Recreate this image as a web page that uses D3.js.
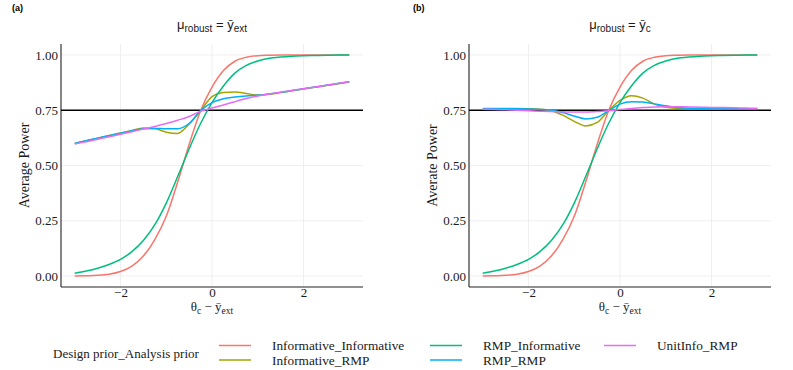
<!DOCTYPE html>
<html>
<head>
<meta charset="utf-8">
<script src="https://cdn.jsdelivr.net/npm/d3@7"></script>
<style>
body { margin: 0; background: #ffffff; }
</style>
</head>
<body>
<script>
// Data
var thetaGrid = [-3, -2.75, -2.5, -2.25, -2, -1.75, -1.5, -1.25, -1, -0.75, -0.5, -0.25,
  0, 0.25, 0.5, 0.75, 1, 1.25, 1.5, 1.75, 2, 2.25, 2.5, 2.75, 3];

var seriesNames = ["Informative_Informative", "Informative_RMP", "RMP_Informative", "RMP_RMP", "UnitInfo_RMP"];
var seriesColors = ["#F8766D", "#A3A500", "#00BF7D", "#00B0F6", "#E76BF3"];

// shared by both panels
var infoInfo = [0.000, 0.001, 0.003, 0.008, 0.020, 0.045, 0.090, 0.165, 0.270, 0.425, 0.595, 0.748,
  0.855, 0.930, 0.972, 0.990, 0.997, 0.999, 1.0, 1.0, 1.0, 1.0, 1.0, 1.0, 1.0];
var rmpInfo = [0.012, 0.022, 0.035, 0.052, 0.075, 0.110, 0.160, 0.232, 0.330, 0.450, 0.575, 0.690,
  0.785, 0.860, 0.918, 0.953, 0.973, 0.985, 0.991, 0.995, 0.997, 0.998, 0.999, 1.0, 1.0];

// panel (a): mu_robust = ybar_ext
var infoRmpA = [0.600, 0.612, 0.624, 0.636, 0.647, 0.659, 0.670, 0.667, 0.651, 0.645, 0.688, 0.748,
  0.812, 0.831, 0.833, 0.826, 0.819, 0.822, 0.830, 0.838, 0.846, 0.854, 0.862, 0.870, 0.879];
var rmpRmpA = [0.600, 0.612, 0.624, 0.635, 0.646, 0.657, 0.666, 0.668, 0.666, 0.666, 0.690, 0.748,
  0.785, 0.802, 0.810, 0.815, 0.818, 0.824, 0.831, 0.839, 0.847, 0.855, 0.863, 0.871, 0.879];
var unitRmpA = [0.597, 0.608, 0.619, 0.630, 0.641, 0.653, 0.665, 0.677, 0.690, 0.705, 0.722, 0.745,
  0.760, 0.774, 0.789, 0.803, 0.815, 0.824, 0.832, 0.840, 0.847, 0.855, 0.863, 0.871, 0.879];

// panel (b): mu_robust = ybar_c
var infoRmpB = [0.758, 0.758, 0.758, 0.758, 0.757, 0.755, 0.748, 0.728, 0.700, 0.679, 0.695, 0.748,
  0.795, 0.816, 0.805, 0.778, 0.764, 0.759, 0.757, 0.757, 0.757, 0.757, 0.757, 0.757, 0.757];
var rmpRmpB = [0.757, 0.757, 0.757, 0.757, 0.756, 0.754, 0.750, 0.740, 0.724, 0.711, 0.718, 0.748,
  0.778, 0.789, 0.787, 0.779, 0.770, 0.763, 0.759, 0.758, 0.757, 0.757, 0.757, 0.757, 0.757];
var unitRmpB = [0.755, 0.754, 0.752, 0.750, 0.748, 0.746, 0.744, 0.743, 0.742, 0.742, 0.744, 0.748,
  0.753, 0.758, 0.762, 0.765, 0.766, 0.766, 0.765, 0.764, 0.763, 0.762, 0.761, 0.760, 0.759];

var yTicks = [0, 0.25, 0.5, 0.75, 1];
var xTicks = [-2, 0, 2];
var refLine = 0.75;

var width = 793, height = 370;
var serif = "'Liberation Serif', 'Times New Roman', serif";
var sans = "'Liberation Sans', Arial, sans-serif";

var svg = d3.select("body").append("svg")
  .attr("width", width)
  .attr("height", height);

function drawPanel(left, right, tag, tagX, titleSub, yLabel, series) {
  var top = 44, bottom = 287;
  var x = d3.scaleLinear().domain([-3.3, 3.3]).range([left, right]);
  var y = d3.scaleLinear().domain([-0.05, 1.05]).range([bottom, top]);
  var g = svg.append("g");

  // grid
  g.selectAll(".gy").data(yTicks).enter().append("line")
    .attr("x1", left).attr("x2", right)
    .attr("y1", function(d) { return y(d); }).attr("y2", function(d) { return y(d); })
    .attr("stroke", "#ebebeb").attr("stroke-width", 0.8);
  g.selectAll(".gx").data(xTicks).enter().append("line")
    .attr("y1", top).attr("y2", bottom)
    .attr("x1", function(d) { return x(d); }).attr("x2", function(d) { return x(d); })
    .attr("stroke", "#ebebeb").attr("stroke-width", 0.8);

  // axes (no tick marks, like the reference)
  var yAxis = g.append("g").attr("transform", "translate(" + left + ",0)")
    .call(d3.axisLeft(y).tickValues(yTicks).tickFormat(d3.format(".2f")).tickSize(0).tickPadding(3));
  var xAxis = g.append("g").attr("transform", "translate(0," + bottom + ")")
    .call(d3.axisBottom(x).tickValues(xTicks).tickFormat(d3.format("d")).tickSize(0).tickPadding(1));
  [xAxis, yAxis].forEach(function(a) {
    a.select(".domain").remove();
    a.selectAll("text").attr("font-family", serif).attr("font-size", 13).attr("fill", "#1a1a1a");
  });
  g.append("line").attr("x1", left).attr("x2", left).attr("y1", top).attr("y2", bottom)
    .attr("stroke", "#222").attr("stroke-width", 1.1);
  g.append("line").attr("x1", left).attr("x2", right).attr("y1", bottom).attr("y2", bottom)
    .attr("stroke", "#222").attr("stroke-width", 1.1);

  // reference line
  g.append("line").attr("x1", left).attr("x2", right)
    .attr("y1", y(refLine)).attr("y2", y(refLine))
    .attr("stroke", "#000").attr("stroke-width", 1.5);

  var line = d3.line()
    .x(function(d, i) { return x(thetaGrid[i]); })
    .y(function(d) { return y(d); })
    .curve(d3.curveMonotoneX);

  g.selectAll(".series").data(series).enter().append("path")
    .attr("fill", "none")
    .attr("stroke", function(d, i) { return seriesColors[i]; })
    .attr("stroke-width", 1.5)
    .attr("d", function(d) { return line(d); });

  var cx = (left + right) / 2;

  // panel tag
  svg.append("text").attr("x", tagX).attr("y", 11)
    .attr("font-family", sans).attr("font-size", 9).attr("font-weight", "bold")
    .text(tag);

  // title: mu_robust = ybar_sub
  var t = svg.append("text").attr("x", cx).attr("y", 29).attr("text-anchor", "middle")
    .attr("font-family", sans).attr("font-size", 13).attr("fill", "#1a1a1a");
  t.append("tspan").text("\u03bc");
  t.append("tspan").attr("font-size", 10).attr("dy", 3).text("robust");
  t.append("tspan").attr("dy", -3).text(" = \u0233");
  t.append("tspan").attr("font-size", 10).attr("dy", 3).text(titleSub);

  // x label
  var xl = svg.append("text").attr("x", cx).attr("y", 311).attr("text-anchor", "middle")
    .attr("font-family", serif).attr("font-size", 13).attr("fill", "#1a1a1a");
  xl.append("tspan").text("\u03b8");
  xl.append("tspan").attr("font-size", 9.5).attr("dy", 2.5).text("c");
  xl.append("tspan").attr("dy", -2.5).text(" \u2212 \u0233");
  xl.append("tspan").attr("font-size", 9.5).attr("dy", 2.5).text("ext");

  // y label
  svg.append("text")
    .attr("transform", "translate(" + (left - 32) + "," + ((top + bottom) / 2) + ") rotate(-90)")
    .attr("text-anchor", "middle")
    .attr("font-family", serif).attr("font-size", 14).attr("fill", "#1a1a1a")
    .text(yLabel);
}

drawPanel(61, 363, "(a)", 12, "ext", "Average Power", [infoInfo, infoRmpA, rmpInfo, rmpRmpA, unitRmpA]);
drawPanel(469, 771, "(b)", 413, "c", "Averate Power", [infoInfo, infoRmpB, rmpInfo, rmpRmpB, unitRmpB]);

// legend
var legendCols = [[0, 1], [2, 3], [4]];
var colKeyX = [219, 430, 604];
var rowY = [345.5, 360];
var lg = svg.append("g");
lg.append("text").attr("x", 53).attr("y", 357.5)
  .attr("font-family", serif).attr("font-size", 13).attr("fill", "#1a1a1a")
  .text("Design prior_Analysis prior");
legendCols.forEach(function(col, c) {
  col.forEach(function(si, r) {
    lg.append("line")
      .attr("x1", colKeyX[c]).attr("x2", colKeyX[c] + 32)
      .attr("y1", rowY[r]).attr("y2", rowY[r])
      .attr("stroke", seriesColors[si]).attr("stroke-width", 1.5);
    lg.append("text").attr("x", colKeyX[c] + 53).attr("y", rowY[r] + 4.5)
      .attr("font-family", serif).attr("font-size", 13.3).attr("fill", "#1a1a1a")
      .text(seriesNames[si]);
  });
});
</script>
</body>
</html>
